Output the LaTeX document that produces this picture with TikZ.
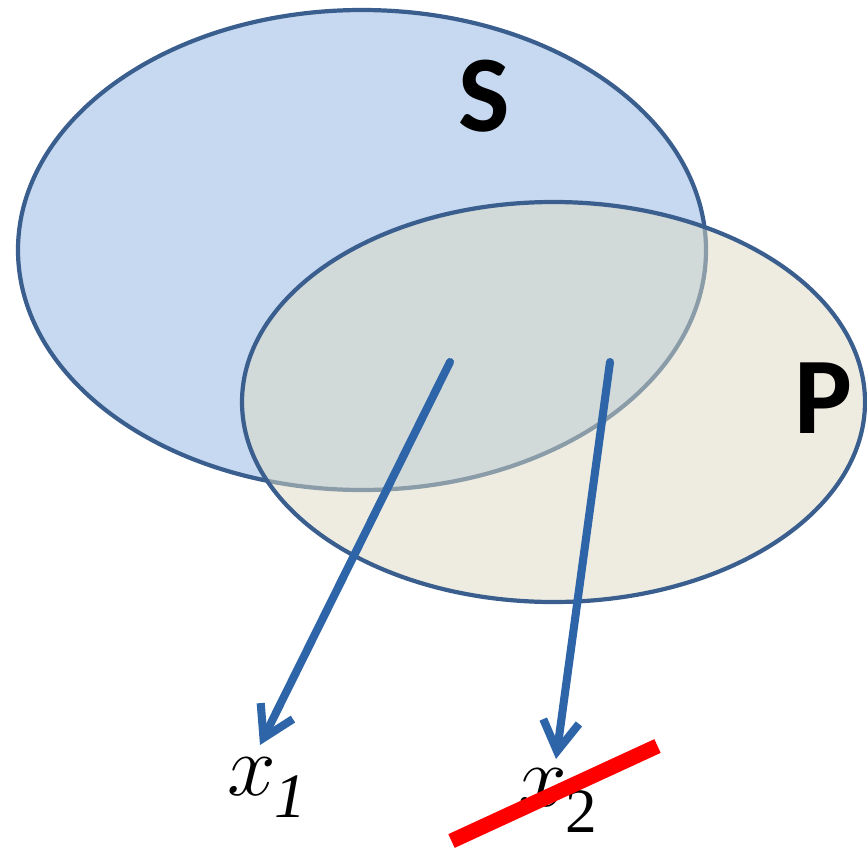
\documentclass[tikz,border=0pt]{standalone}
\usepackage{fontspec}
\usepackage{tikz}
\usetikzlibrary{shapes.geometric, arrows.meta, positioning}
\usepackage{xcolor}
\newfontfamily\setfont{Carlito}
\newfontfamily\varfont{Liberation Serif}
\definecolor{setline}{HTML}{3A5F8F}
\definecolor{setSfill}{HTML}{C6D9F0}
\definecolor{setPfill}{HTML}{DDD9C3}
\definecolor{mapblue}{HTML}{2E64A8}

\begin{document}
\begin{tikzpicture}[
    set/.style = {ellipse, draw=setline, line width=1.2pt, inner sep=0pt},
    setname/.style = {inner sep=0pt, font=\setfont\bfseries\fontsize{31}{31}\selectfont},
    var/.style = {inner sep=0pt, anchor=base west, font=\varfont\fontsize{28}{28}\selectfont},
    arrow/.style = {draw=mapblue, line width=2.3pt, line cap=round, -{Straight Barb[length=3mm, width=3.6mm]}},
    cross/.style = {draw=red, line width=4.3pt}
]
\useasboundingbox (0,0) rectangle (8.67,8.48);

\node (setS) [set, fill=setSfill, minimum width=6.88cm, minimum height=4.8cm] at (3.62,5.98) {};
\node (setP) [set, fill=setPfill, fill opacity=0.5, minimum width=6.23cm, minimum height=4.0cm] at (5.535,4.46) {};

\node (lblS) [setname] at (4.84,7.52) {S};
\node (lblP) [setname] at (8.235,4.50) {P};

\node (lblX1) [var] at (2.27,0.53) {$x$\kern-0.02cm\raisebox{-0.22cm}{\fontsize{18}{18}\selectfont\itshape 1}};
\node (lblX2) [var] at (5.18,0.42) {$x$\kern-0.02cm\raisebox{-0.26cm}{\fontsize{18}{18}\selectfont 2}};

\coordinate (from1) at (4.50,4.86);
\coordinate (to1) at (2.60,1.03);
\coordinate (from2) at (6.10,4.86);
\coordinate (to2) at (5.56,0.89);

\draw [arrow] (from1) -- (to1);
\draw [arrow] (from2) -- (to2);

% strike out x2
\coordinate (crossA) at (4.515,0.07);
\coordinate (crossB) at (6.575,1.02);
\draw [cross] (crossA) -- (crossB);

\end{tikzpicture}
\end{document}
